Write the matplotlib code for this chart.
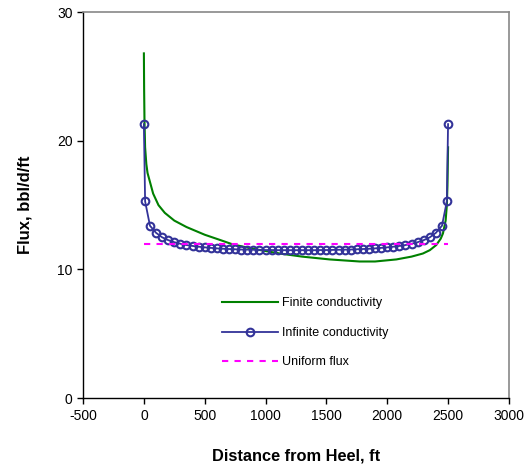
import matplotlib
matplotlib.use("Agg")
import matplotlib.pyplot as plt
import numpy as np

plt.rcParams['font.family'] = ['Liberation Sans', 'DejaVu Sans']
plt.rcParams['axes.unicode_minus'] = False

# Finite conductivity
fin_x = [0, 2, 5, 10, 20, 30, 76, 120, 172, 250, 350, 500, 624, 730, 900, 1117, 1300,
         1527, 1773, 1900, 2075, 2200, 2293, 2350, 2403, 2440, 2458, 2480, 2490, 2495, 2500]
fin_y = [26.8, 24.0, 21.5, 19.5, 18.2, 17.5, 15.9, 15.0, 14.4, 13.8, 13.3, 12.7, 12.3, 11.95,
         11.6, 11.24, 11.0, 10.78, 10.62, 10.62, 10.78, 11.0, 11.24, 11.5, 11.9, 12.4, 12.8,
         13.8, 15.0, 16.5, 19.5]

# Infinite conductivity (left half, mirrored on the right)
inf_half_x = [0, 10, 50, 100, 150, 200, 250, 300, 350, 400, 450, 500, 550, 600, 650, 700,
              750, 800, 850, 900, 950, 1000, 1050, 1100, 1150, 1200, 1250]
inf_half_y = [21.3, 15.3, 13.4, 12.85, 12.5, 12.28, 12.12, 12.0, 11.9, 11.83, 11.77, 11.72,
              11.68, 11.64, 11.61, 11.59, 11.57, 11.55, 11.54, 11.53, 11.52, 11.51, 11.51,
              11.5, 11.5, 11.5, 11.5]
inf_x = inf_half_x + [2500 - x for x in inf_half_x[-2::-1]]
inf_y = inf_half_y + inf_half_y[-2::-1]

# Uniform flux
uni_x = [0, 2500]
uni_y = [12, 12]

xticks = [-500, 0, 500, 1000, 1500, 2000, 2500, 3000]
yticks = [0, 10, 20, 30]

fig = plt.figure(figsize=(5.29, 4.70), dpi=100)
ax = fig.add_axes([0.157, 0.153, 0.805, 0.821])

l1, = ax.plot(fin_x, fin_y, color='#008000', lw=1.5, label='Finite conductivity')
l2, = ax.plot(inf_x, inf_y, color='#333399', lw=1.3, marker='o', ms=5.5, mfc='none',
              mec='#333399', mew=1.5, label='Infinite conductivity')
l3, = ax.plot(uni_x, uni_y, color='#FF00FF', lw=1.5, ls=(0, (3, 3)), label='Uniform flux')

ax.set_xlim(-500, 3000)
ax.set_ylim(0, 30)
ax.set_xticks(xticks)
ax.set_yticks(yticks)
ax.tick_params(direction='out', length=4, labelsize=10, width=1, colors='black')
for s in ['top', 'right']:
    ax.spines[s].set_color('#888888')
    ax.spines[s].set_linewidth(1.2)
for s in ['left', 'bottom']:
    ax.spines[s].set_color('black')
    ax.spines[s].set_linewidth(1)

ax.set_xlabel('Distance from Heel, ft', fontsize=11.8, fontweight='bold', labelpad=19)
ax.set_ylabel('Flux, bbl/d/ft', fontsize=12, fontweight='bold', labelpad=18)

leg = ax.legend(handles=[l1, l2, l3], loc='upper left', bbox_to_anchor=(0.30, 0.29),
                frameon=False, fontsize=9, handlelength=4.5, handletextpad=0.3,
                labelspacing=1.4, markerfirst=True)

fig.savefig('out.png', dpi=100)
